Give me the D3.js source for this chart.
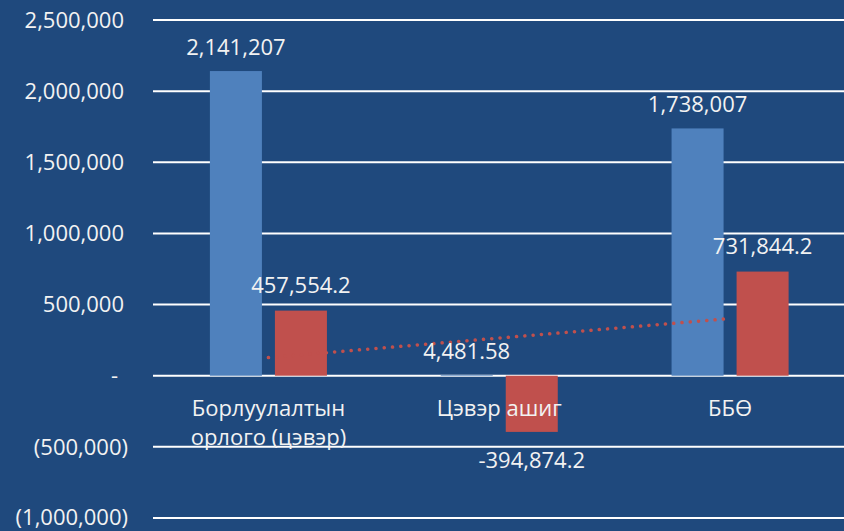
<!DOCTYPE html>
<html>
<head>
<meta charset="utf-8">
<script src="https://cdn.jsdelivr.net/npm/d3@7"></script>
<style>
  body { margin: 0; background: #1F497D; }
  svg { display: block; }
  text { fill: #F2F2F2; font-family: "Open Sans", sans-serif; }
</style>
</head>
<body>
<div id="chart"></div>
<script>
// categories (two-line labels) and the two series
const categories = ["Борлуулалтын орлого (цэвэр)", "Цэвэр ашиг", "ББӨ"];
const categoryLines = [["Борлуулалтын", "орлого (цэвэр)"], ["Цэвэр ашиг"], ["ББӨ"]];
const blueValues = [2141207, 4481.58, 1738007];
const redValues = [457554.2, -394874.2, 731844.2];
const blueLabels = ["2,141,207", "4,481.58", "1,738,007"];
const redLabels = ["457,554.2", "-394,874.2", "731,844.2"];
const tickValues = [2500000, 2000000, 1500000, 1000000, 500000, 0, -500000, -1000000];

const width = 844, height = 531;
const fontSize = "22px";

let svg = d3.select("#chart").append("svg")
    .attr("width", width)
    .attr("height", height);

svg.append("rect")
    .attr("width", width)
    .attr("height", height)
    .attr("fill", "#1F497D");

// scales
let y = d3.scaleLinear()
    .domain([-1000000, 2500000])
    .range([518, 20]);

let x = d3.scaleBand()
    .domain(categories)
    .range([153, 845.5]);

let inner = d3.scaleBand()
    .domain(["blue", "red"])
    .range([0, x.bandwidth()])
    .paddingInner(0.2)
    .paddingOuter(0.875);

// gridlines
svg.append("g")
    .selectAll("line")
    .data(tickValues)
    .join("line")
    .attr("x1", 153)
    .attr("x2", width)
    .attr("y1", d => y(d))
    .attr("y2", d => y(d))
    .attr("stroke", "#FFFFFF")
    .attr("stroke-width", 2);

// tick labels, accounting style
function tickText(d) {
    if (d === 0) return "-";
    let s = d3.format(",")(Math.abs(d));
    return d < 0 ? "(" + s + ")" : s;
}
svg.append("g")
    .selectAll("text")
    .data(tickValues)
    .join("text")
    .attr("x", d => d < 0 ? 128 : (d === 0 ? 118 : 124))
    .attr("y", d => y(d))
    .attr("dy", d => d === -1000000 ? "0.3em" : "0.35em")
    .attr("text-anchor", "end")
    .style("font-size", fontSize)
    .text(tickText);

// bars
let blueBars = svg.append("g");
blueBars.selectAll("rect")
    .data(blueValues)
    .join("rect")
    .attr("x", (d, i) => x(categories[i]) + inner("blue"))
    .attr("width", inner.bandwidth())
    .attr("y", d => y(Math.max(0, d)))
    .attr("height", d => Math.abs(y(d) - y(0)))
    .attr("fill", "#4F81BD");

let redBars = svg.append("g");
redBars.selectAll("rect")
    .data(redValues)
    .join("rect")
    .attr("x", (d, i) => x(categories[i]) + inner("red"))
    .attr("width", inner.bandwidth())
    .attr("y", d => y(Math.max(0, d)))
    .attr("height", d => Math.abs(y(d) - y(0)))
    .attr("fill", "#C0504D");

// linear trendline of the red series
let n = redValues.length;
let xs = d3.range(1, n + 1);
let mx = d3.mean(xs), my = d3.mean(redValues);
let slope = d3.sum(xs, (v, i) => (v - mx) * (redValues[i] - my)) / d3.sum(xs, v => (v - mx) * (v - mx));
let icpt = my - slope * mx;

let trend = d3.line()
    .x(i => x(categories[i]) + x.bandwidth() / 2)
    .y(i => y(icpt + slope * (i + 1)));

svg.append("path")
    .datum([0, n - 1])
    .attr("d", trend)
    .attr("fill", "none")
    .attr("stroke", "#C0504D")
    .attr("stroke-width", 3.5)
    .attr("stroke-linecap", "round")
    .attr("stroke-dasharray", "0.1 8.2");

// data labels
svg.append("g")
    .selectAll("text")
    .data(blueValues)
    .join("text")
    .attr("x", (d, i) => x(categories[i]) + inner("blue") + inner.bandwidth() / 2)
    .attr("y", d => y(Math.max(0, d)) - 16)
    .attr("text-anchor", "middle")
    .style("font-size", fontSize)
    .text((d, i) => blueLabels[i]);

svg.append("g")
    .selectAll("text")
    .data(redValues)
    .join("text")
    .attr("x", (d, i) => x(categories[i]) + inner("red") + inner.bandwidth() / 2)
    .attr("y", d => d >= 0 ? y(d) - 18 : y(d) + 36)
    .attr("text-anchor", "middle")
    .style("font-size", fontSize)
    .text((d, i) => redLabels[i]);

// category labels
let catG = svg.append("g")
    .selectAll("text")
    .data(categoryLines)
    .join("text")
    .attr("x", (d, i) => x(categories[i]) + x.bandwidth() / 2)
    .attr("y", 416)
    .attr("text-anchor", "middle")
    .style("font-size", fontSize);

catG.selectAll("tspan")
    .data(d => d)
    .join("tspan")
    .attr("x", function () { return this.parentNode.getAttribute("x"); })
    .attr("dy", (d, i) => i === 0 ? 0 : 29)
    .text(d => d);
</script>
</body>
</html>
